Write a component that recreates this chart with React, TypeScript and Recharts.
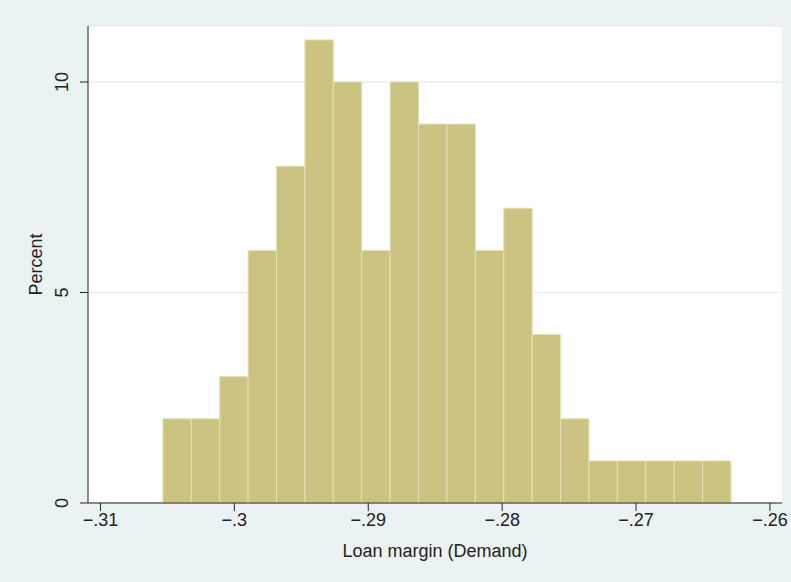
import { ComposedChart, Bar, XAxis, YAxis, CartesianGrid } from "recharts"

const binStart = -0.305336
const binWidth = 0.0021213
const percents = [2, 2, 3, 6, 8, 11, 10, 6, 10, 9, 9, 6, 7, 4, 2, 1, 1, 1, 1, 1]
const xTicks = [-0.31, -0.3, -0.29, -0.28, -0.27, -0.26]
const yTicks = [0, 5, 10]

const data = percents.map((p, i) => ({ mid: binStart + binWidth * (i + 0.5), pct: p }))

const fmt = (v: number) => {
  const s = String(Math.round(v * 100) / 100)
  return s.replace("-0.", "\u2212.").replace(/0$/, "").replace(/\.$/, "")
}

function YTick({ x, y, payload }: any) {
  return (
    <text x={x - 10} y={y} transform={`rotate(-90 ${x - 10} ${y})`} textAnchor="middle"
      style={{ fontSize: 18, fill: "#222" }}>
      {payload.value}
    </text>
  )
}

export default function App() {
  return (
    <div style={{ position: "absolute", left: 0, top: 0, width: 791, height: 582, background: "#eaf2f3", fontFamily: "'Liberation Sans', Arial, sans-serif" }}>
      <ComposedChart width={791} height={582} data={data} margin={{ top: 26, right: 9, left: 0, bottom: 0 }} barCategoryGap={0}>
        <CartesianGrid vertical={false} horizontal fill="#ffffff" stroke="#e4eeee" strokeWidth={1.5} />
        <XAxis type="number" dataKey="mid" domain={[-0.31093, -0.2591]} ticks={xTicks} allowDataOverflow
          tickFormatter={fmt} height={79} tickSize={8} stroke="#222" tick={{ fontSize: 18, fill: "#222" }}
          label={{ value: "Loan margin (Demand)", position: "insideBottom", offset: 25, style: { fontSize: 18, fill: "#222" } }} />
        <YAxis type="number" domain={[0, 11.33]} ticks={yTicks} width={88} tickSize={8} stroke="#222" tick={<YTick />}
          label={{ value: "Percent", angle: -90, position: "insideLeft", offset: 36, style: { fontSize: 18, fill: "#222", textAnchor: "middle" } }} />
        <Bar dataKey="pct" barSize={28.4} fill="#cbc381" stroke="#e6e0b4" strokeWidth={1} isAnimationActive={false} />
      </ComposedChart>
    </div>
  )
}
